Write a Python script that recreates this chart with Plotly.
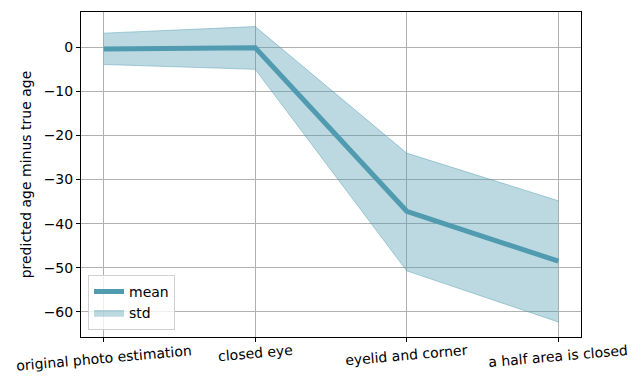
import plotly.graph_objects as go

categories = ["original photo estimation", "closed eye", "eyelid and corner", "a half area is closed"]
mean_vals = [-0.4, -0.1, -37.2, -48.5]
std_upper = [3.2, 4.7, -24.0, -34.8]
std_lower = [-3.9, -5.0, -50.7, -62.3]

xi = list(range(len(categories)))
line_col = "rgb(80,155,176)"
fill_col = "rgba(80,155,176,0.38)"

fig = go.Figure()
fig.add_trace(go.Scatter(x=xi, y=std_upper, mode="lines", line=dict(color="rgba(80,155,176,0.45)", width=1),
                         showlegend=False, hoverinfo="skip"))
fig.add_trace(go.Scatter(x=xi, y=std_lower, mode="lines", line=dict(color="rgba(80,155,176,0.45)", width=1),
                         fill="tonexty", fillcolor=fill_col, name="std"))
fig.add_trace(go.Scatter(x=xi, y=mean_vals, mode="lines", line=dict(color=line_col, width=5), name="mean"))

for i, lab in enumerate(categories):
    fig.add_annotation(x=xi[i], xref="x", y=-0.012, yref="paper", text=lab, showarrow=False,
                       textangle=-5, xanchor="center", yanchor="top", borderpad=0,
                       font=dict(family="DejaVu Sans", size=14, color="black"))

axis_common = dict(showline=True, linecolor="black", linewidth=1, mirror=True,
                   ticks="outside", ticklen=4, tickcolor="black",
                   showgrid=True, gridcolor="#b0b0b0", gridwidth=1, zeroline=False)

fig.update_layout(
    width=635, height=376,
    margin=dict(l=81, r=54, t=12, b=39, autoexpand=False),
    plot_bgcolor="white", paper_bgcolor="white",
    font=dict(family="DejaVu Sans", size=14, color="black"),
    xaxis=dict(range=[-0.15, 3.15], tickvals=xi, showticklabels=False, **axis_common),
    yaxis=dict(range=[-65.7, 8.0], tickvals=[0, -10, -20, -30, -40, -50, -60],
               ticktext=["0", "\u221210", "\u221220", "\u221230", "\u221240", "\u221250", "\u221260"],
               title=dict(text="predicted age minus true age", standoff=8, font=dict(size=14)),
               **axis_common),
    legend=dict(x=0.014, y=0.022, xanchor="left", yanchor="bottom", bgcolor="rgba(255,255,255,0.8)",
                bordercolor="#d0d0d0", borderwidth=1, traceorder="reversed",
                font=dict(size=14)),
)

fig.write_html("out.html", config={"displayModeBar": False},
               post_script="document.body.style.margin='0';document.body.style.overflow='hidden';")
